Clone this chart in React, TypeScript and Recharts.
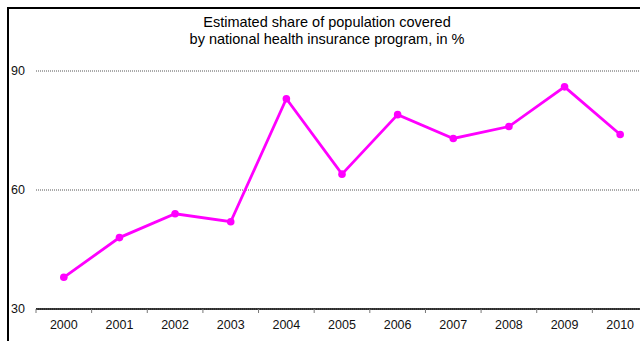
import { CartesianGrid, Line, LineChart, XAxis, YAxis } from "recharts";

const years = ["2000", "2001", "2002", "2003", "2004", "2005", "2006", "2007", "2008", "2009", "2010"];
const coverage = [38, 48, 54, 52, 83, 64, 79, 73, 76, 86, 74];
const yTicks = [30, 60, 90];

const data = years.map((year, i) => ({ idx: i, year, coverage: coverage[i] }));
// year labels sit on whole indexes, separator marks on the half steps between them
const xTicks = [-0.5, ...years.flatMap((_, i) => [i, i + 0.5])];

const font = "'Liberation Sans', Arial, sans-serif";
const TICK_GAP = 11; // tickSize + tickMargin of the year axis

function YearTick(props: any) {
  const { x, y, payload } = props;
  const v = payload.value as number;
  if (!Number.isInteger(v)) {
    const top = y - TICK_GAP;
    return <line x1={x} x2={x} y1={top} y2={top + 4} stroke="#777" strokeWidth={1} />;
  }
  return (
    <text x={x} y={y} dy="0.71em" textAnchor="middle" fill="#111" fontSize={12.5} fontFamily={font}>
      {years[v]}
    </text>
  );
}

export default function App() {
  return (
    <div style={{ position: "absolute", left: 0, top: 0, width: 640, height: 341, overflow: "hidden", background: "#fff", fontFamily: font }}>
      <div style={{ position: "absolute", left: 7, top: 7, width: 700, height: 400, borderTop: "2px solid #000", borderLeft: "2px solid #000" }} />
      <div style={{ position: "absolute", left: 0, top: 14, width: 654, textAlign: "center", fontSize: 14.5, lineHeight: "17px", color: "#000" }}>
        Estimated share of population covered
        <br />
        by national health insurance program, in %
      </div>
      <div style={{ position: "absolute", left: 0, top: 0 }}>
        <LineChart width={660} height={341} data={data} margin={{ top: 71, right: 12, left: 0, bottom: 2 }}>
          <CartesianGrid vertical={false} stroke="#555" strokeDasharray="1 1" />
          <XAxis
            dataKey="idx"
            type="number"
            domain={[-0.5, years.length - 0.5]}
            ticks={xTicks}
            height={30}
            axisLine={{ stroke: "#000", strokeWidth: 1.5 }}
            tickLine={false}
            tickSize={6}
            tickMargin={5}
            interval={0}
            tick={<YearTick />}
          />
          <YAxis
            domain={[30, 90]}
            ticks={yTicks}
            width={36}
            axisLine={false}
            tickLine={false}
            tickSize={9}
            tickMargin={2}
            tick={{ fill: "#111", fontSize: 12.5, fontFamily: font }}
          />
          <Line
            dataKey="coverage"
            stroke="#ff00ff"
            strokeWidth={2.8}
            dot={{ r: 3.8, fill: "#ff00ff", stroke: "#ff00ff", strokeWidth: 0 }}
            activeDot={false}
            isAnimationActive={false}
          />
        </LineChart>
      </div>
    </div>
  );
}
